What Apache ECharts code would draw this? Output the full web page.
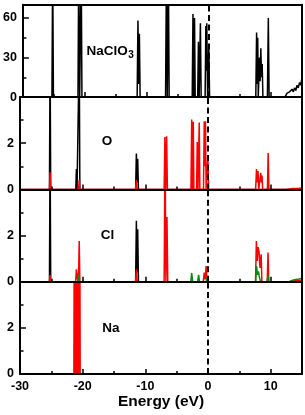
<!DOCTYPE html>
<html><head><meta charset="utf-8">
<script src="https://cdn.jsdelivr.net/npm/echarts@6/dist/echarts.min.js"></script>
<style>html,body{margin:0;padding:0;background:#fff}#c{width:305px;height:415px}</style>
</head><body><div id="c"></div>
<script>
// ---- data (energy eV, DOS) ----
const xTicks = [-30, -20, -10, 0, 10];
const panelNames = ['NaClO', 'O', 'Cl', 'Na'];
const totalDOS = [[-30,0],[-25.32,0],[-25.2,100],[-25.08,0],
  [-21.12,0],[-21.0,100],[-20.85,0],[-20.72,0],[-20.6,100],[-20.48,0],
  [-11.58,0],[-11.45,58],[-11.33,10],[-11.22,48],[-11.1,0],
  [-7.0,0],[-6.85,100],[-6.72,0],[-6.66,0],[-6.55,100],[-6.42,0],
  [-2.7,0],[-2.58,63],[-2.47,0],[-2.43,0],[-2.33,60],[-2.22,0],
  [-1.82,0],[-1.7,42],[-1.58,0],[-1.5,0],[-1.38,56],[-1.26,0],
  [-0.62,0],[-0.5,54],[-0.42,20],[-0.35,56],[-0.22,0],[-0.12,0],[-0.02,37],[0.1,0],
  [7.55,0],[7.68,49],[7.78,10],[7.86,45],[7.95,0],[8.05,0],[8.15,30],[8.25,12],[8.36,37],[8.48,15],[8.58,25],[8.7,0],
  [9.42,0],[9.57,60],[9.7,0],
  [11.8,0],[12.1,1.5],[12.3,0.5],[12.6,3],[12.8,2],[13.0,4],[13.2,3],[13.4,6],[13.6,4],[13.8,7],[14.0,5],[14.2,9],[14.4,7],[14.6,11],[14.8,9],[15,15]];
const oS = [[-30,0],[-25.3,0],[-25.2,6],[-25.1,0],
  [-21.1,0],[-21.0,0.88],[-20.9,0],[-20.65,0],[-20.55,6],[-20.45,0],
  [-11.55,0],[-11.43,1.55],[-11.32,0.3],[-11.22,1.33],[-11.1,0],[15,0]];
const oP = [[-30,0],[-25.3,0],[-25.2,0.74],[-25.1,0],
  [-20.65,0],[-20.55,0.42],[-20.45,0],
  [-11.55,0],[-11.43,0.42],[-11.3,0],
  [-7.0,0],[-6.88,2.27],[-6.76,0],[-6.7,0],[-6.6,2.3],[-6.48,0],
  [-2.72,0],[-2.6,3.03],[-2.5,0],[-2.45,0],[-2.35,2.93],[-2.25,0],
  [-1.82,0],[-1.72,2.05],[-1.6,0],[-1.52,0],[-1.4,2.9],[-1.3,0],
  [-0.72,0],[-0.6,2.95],[-0.5,1.0],[-0.4,2.95],[-0.3,0],[-0.12,0],[-0.02,1.42],[0.1,0],
  [7.6,0],[7.74,0.88],[7.85,0.3],[7.98,0.8],[8.1,0],[8.3,0],[8.42,0.72],[8.52,0.3],[8.62,0.6],[8.72,0],
  [9.48,0],[9.6,1.58],[9.72,0],
  [12.4,0],[12.6,0.03],[13.5,0.04],[14.5,0.05],[15,0.06]];
const clS = [[-30,0],[-25.3,0],[-25.2,6],[-25.1,0],
  [-11.55,0],[-11.43,2.64],[-11.32,0.4],[-11.22,2.27],[-11.1,0],[15,0]];
const clP = [[-30,0],[-25.3,0],[-25.2,0.29],[-25.1,0],
  [-21.12,0],[-21.0,0.54],[-20.85,0.1],[-20.65,0.4],[-20.55,1.76],[-20.45,0],
  [-11.55,0],[-11.43,0.54],[-11.3,0],
  [-7.0,0],[-6.85,6],[-6.72,0],[-6.65,0],[-6.55,2.8],[-6.42,0],
  [-0.75,0],[-0.6,0.4],[-0.45,0.1],[-0.3,0.68],[-0.15,0],
  [7.58,0],[7.72,1.76],[7.85,0.9],[8.0,1.5],[8.15,1.28],[8.3,0.6],[8.48,1.19],[8.6,0],
  [9.45,0],[9.58,1.26],[9.7,0],
  [13,0],[13.5,0.04],[14.5,0.05],[15,0.06]];
const clD = [[-30,0],[-20.8,0],[-20.65,0.3],[-20.5,0],
  [-2.75,0],[-2.6,0.37],[-2.45,0],
  [-1.65,0],[-1.5,0.3],[-1.35,0],
  [-0.3,0],[-0.15,0.2],[0,0.25],[0.1,0],
  [7.6,0],[7.75,0.68],[7.9,0.3],[8.05,0.45],[8.2,0.2],[8.4,0],
  [9.45,0],[9.58,0.3],[9.7,0],
  [13,0],[13.4,0.05],[14,0.1],[14.5,0.12],[15,0.15]];
const naP = [[-30,0],[-21.4,0],[-21.35,6],[-20.45,6],[-20.4,0],[15,0]];
const yMax = [70, 4, 4, 4];
const yMajor = [30, 2, 2, 2];
const yMinor = [15, 1, 1, 1];

// ---- layout ----
const FONT = 'Liberation Sans, Arial, Helvetica, sans-serif';
const tops = [4.8, 97.1, 189.4, 281.7];
const H = 92.3;
const grids = tops.map(t => ({left: 20, right: 3, top: t, height: H}));
const xAxes = [], yAxes = [];
const blackLine = {color: '#000', width: 2};
tops.forEach((t, i) => {
  xAxes.push({gridIndex: i, type: 'value', min: -30, max: 15, interval: 10, position: 'bottom', z: 5,
    axisLine: {show: true, onZero: false, lineStyle: blackLine},
    axisTick: {show: true, inside: true, length: 5, lineStyle: {color: '#000', width: 1.5}},
    axisLabel: {show: i === 3, showMaxLabel: false, color: '#000', fontFamily: FONT, fontWeight: 'bold', fontSize: 12.5, margin: 6},
    splitLine: {show: false},
    name: i === 3 ? 'Energy (eV)' : '', nameLocation: 'middle', nameGap: 18,
    nameTextStyle: {color: '#000', fontFamily: FONT, fontWeight: 'bold', fontSize: 15.5}});
  xAxes.push({gridIndex: i, type: 'value', min: -30, max: 15, interval: 5, position: 'bottom', z: 5,
    axisLine: {show: false, onZero: false}, axisTick: {show: true, inside: true, length: 3, lineStyle: {color: '#000', width: 1.5}},
    axisLabel: {show: false}, splitLine: {show: false}});
  xAxes.push({gridIndex: i, type: 'value', min: -30, max: 15, position: 'top', z: 5,
    axisLine: {show: true, onZero: false, lineStyle: blackLine}, axisTick: {show: false},
    axisLabel: {show: false}, splitLine: {show: false}});
  yAxes.push({gridIndex: i, type: 'value', min: 0, max: yMax[i], interval: yMajor[i], position: 'left', z: 5,
    axisLine: {show: true, onZero: false, lineStyle: blackLine},
    axisTick: {show: true, inside: true, length: 6, lineStyle: {color: '#000', width: 1.5}},
    axisLabel: {show: true, showMaxLabel: false, color: '#000', fontFamily: FONT, fontWeight: 'bold', fontSize: 12.5, margin: 6},
    splitLine: {show: false}});
  yAxes.push({gridIndex: i, type: 'value', min: 0, max: yMax[i], interval: yMinor[i], position: 'left', z: 5,
    axisLine: {show: false, onZero: false}, axisTick: {show: true, inside: true, length: 3.5, lineStyle: {color: '#000', width: 1.5}},
    axisLabel: {show: false}, splitLine: {show: false}});
  yAxes.push({gridIndex: i, type: 'value', min: 0, max: yMax[i], position: 'right', z: 5,
    axisLine: {show: true, onZero: false, lineStyle: blackLine}, axisTick: {show: false},
    axisLabel: {show: false}, splitLine: {show: false}});
});

const fermi = {silent: true, symbol: 'none', animation: false, label: {show: false},
  lineStyle: {color: '#000', type: [6, 3.5], width: 2}, data: [{xAxis: 0}]};
function mk(i, data, color, withFermi, area) {
  const s = {type: 'line', xAxisIndex: 3 * i, yAxisIndex: 3 * i, data: data, symbol: 'none', showSymbol: false,
    lineStyle: {color: color, width: 1.5}, itemStyle: {color: color}, clip: true, animation: false, silent: true};
  if (area) s.areaStyle = {color: color, opacity: 1};
  if (withFermi) s.markLine = fermi;
  return s;
}
const series = [
  mk(0, totalDOS, '#000', true),
  mk(1, oS, '#000', false), mk(1, oP, '#ff0000', true),
  mk(2, clS, '#000', false), mk(2, clP, '#ff0000', false), mk(2, clD, '#0a8a0a', true),
  mk(3, naP, '#ff0000', true, true)
];

const txt = (x, y, s, size, align) => ({type: 'text', x: x, y: y, z: 10,
  style: {text: s, fill: '#000', font: 'bold ' + size + 'px ' + FONT, align: align || 'center', verticalAlign: 'middle'}});
const graphic = [
  txt(86.5, 50.8, panelNames[0], 13.5, 'left'),
  txt(128.3, 55.5, '3', 10, 'left'),
  txt(107, 140.8, panelNames[1], 13.5),
  txt(107.5, 234.8, panelNames[2], 13.5),
  txt(111, 327.8, panelNames[3], 13.5)
];

const chart = echarts.init(document.getElementById('c'), null, {renderer: 'canvas'});
chart.setOption({animation: false, grid: grids, xAxis: xAxes, yAxis: yAxes, series: series, graphic: graphic});
</script></body></html>
